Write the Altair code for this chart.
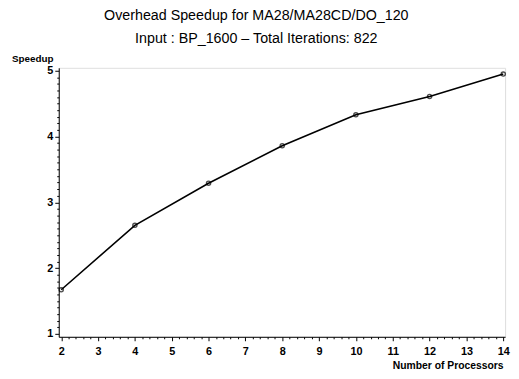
import altair as alt
import pandas as pd

processors = [2, 4, 6, 8, 10, 12, 14]
speedup = [1.67, 2.65, 3.29, 3.86, 4.33, 4.61, 4.95]

df = pd.DataFrame({"Processors": processors, "Speedup": speedup})

y_ticks = [round(1 + i * 0.1, 2) for i in range(41)]
x_ticks = [round(2 + i * 0.2, 2) for i in range(61)]

FONT = "Liberation Sans"
is_int = "abs(datum.value - round(datum.value)) < 0.001"

x_enc = alt.X(
    "Processors:Q",
    scale=alt.Scale(domain=[1.933, 14.05], nice=False, zero=False),
    axis=alt.Axis(
        values=x_ticks,
        labelExpr=f"{is_int} ? format(datum.value, 'd') : ''",
        labelOverlap=False,
        labelFlush=False,
        tickSize={"condition": {"test": is_int, "value": 4}, "value": 2},
        tickColor="black",
        domainColor="black",
        grid=False,
        labelFont=FONT,
        labelFontWeight="bold",
        labelFontSize=11,
        labelColor="black",
        labelPadding=5,
        title="Number of Processors",
        titleFont=FONT,
        titleFontWeight="bold",
        titleFontSize=10.5,
        titleColor="black",
        titleAnchor="end",
        titleAlign="right",
        titleBaseline="middle",
        titleX=451,
        titleY=29,
    ),
)

y_enc = alt.Y(
    "Speedup:Q",
    scale=alt.Scale(domain=[0.955, 5.045], nice=False, zero=False),
    axis=alt.Axis(
        values=y_ticks,
        labelExpr=f"{is_int} ? format(datum.value, 'd') : ''",
        labelOverlap=False,
        labelFlush=False,
        tickSize={"condition": {"test": is_int, "value": 4}, "value": 2},
        tickColor="black",
        domainColor="black",
        grid=False,
        labelFont=FONT,
        labelFontWeight="bold",
        labelFontSize=11,
        labelColor="black",
        labelPadding=2,
        title="Speedup",
        titleFont=FONT,
        titleFontWeight="bold",
        titleFontSize=10,
        titleColor="black",
        titleAngle=0,
        titleAlign="left",
        titleBaseline="middle",
        titleX=-48,
        titleY=-9,
    ),
)

base = alt.Chart(df).encode(x=x_enc, y=y_enc)

line = base.mark_line(color="black", strokeWidth=1.6)
points = base.mark_point(shape="circle", filled=False, color="black", size=18, strokeWidth=1.4)

chart = (
    (line + points)
    .properties(
        width=453,
        height=273,
        autosize=alt.AutoSizeParams(type="none"),
        padding={"left": 51.5, "top": 58, "right": 6, "bottom": 32},
        title=alt.TitleParams(
            text=["Overhead Speedup for MA28/MA28CD/DO_120", "Input : BP_1600  \u2013  Total Iterations: 822"],
            font=FONT,
            fontSize=14.5,
            fontWeight="normal",
            color="black",
            anchor="middle",
            lineHeight=23.5,
            dx=-26,
            offset=8,
        ),
    )
    .configure_view(stroke="black", strokeWidth=1.2)
    .configure(background="white")
)

chart.save("out.html", embed_options={"renderer": "svg", "actions": False})
